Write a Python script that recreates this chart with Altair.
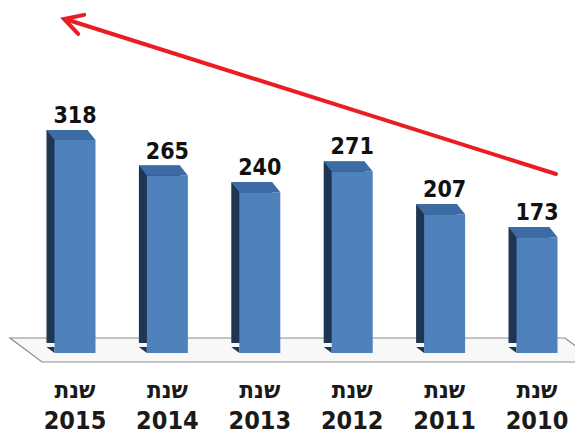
import altair as alt
import pandas as pd

years = ["2015", "2014", "2013", "2012", "2011", "2010"]
values = [318, 265, 240, 271, 207, 173]
prefix = "שנת"

df = pd.DataFrame({"year": years, "value": values, "prefix": [prefix] * len(years)})
base_df = pd.DataFrame({"v": [0]})

FONT = "DejaVu Sans Condensed, DejaVu Sans, sans-serif"
RED = "#ec1c24"
FRONT = "#4f81bd"
SIDE = "#1f3552"
TOP = "#3d6ba6"

xs = alt.Scale(type="band", domain=years, range=[20.8, 575.2], paddingInner=0, paddingOuter=0)
ys = alt.Scale(domain=[0, 515.1], range=[345, 0], nice=False, zero=True)
X = alt.X("year:N", sort=years, axis=None, scale=xs)
Y = alt.Y("value:Q", axis=None, scale=ys)

top_path = "M -0.82 0 L 0.82 0 L 0.5 -0.4 L -1.14 -0.4 Z"
bottom_path = "M -1.14 -0.24 L -0.82 -0.24 L -0.82 0 Z"
floor_path = "M -0.9783 -0.05 L 0.8717 -0.05 L 0.9783 0.03 L -0.8717 0.03 Z"
arrow_path = "M 0.9 -0.5 L 0 0 L 0.9 0.5"

floor = alt.Chart(base_df).mark_point(
    shape=floor_path, size=360000, filled=True, fill="#f8f8f8", fillOpacity=1,
    stroke="#8c8c8c", strokeWidth=1.2, opacity=1
).encode(x=alt.value(295.5), y=alt.Y(datum=0, scale=ys, axis=None))

side = alt.Chart(df).mark_bar(size=41, color=SIDE, xOffset=-8, yOffset=-10, y2Offset=-6).encode(x=X, y=Y)

bottom = alt.Chart(df).mark_point(
    shape=bottom_path, size=2500, filled=True, fill=SIDE, opacity=1, strokeWidth=0
).encode(x=X, y=alt.Y(datum=0, scale=ys, axis=None))

front = alt.Chart(df).mark_bar(size=41, color=FRONT).encode(x=X, y=Y)

top = alt.Chart(df).mark_point(
    shape=top_path, size=2500, filled=True, fill=TOP, opacity=1, strokeWidth=0
).encode(x=X, y=Y)

vlabels = alt.Chart(df).mark_text(
    dy=-17, baseline="alphabetic", fontSize=23, fontWeight="bold", font=FONT, color="#111111"
).encode(x=X, y=Y, text="value:Q")

plabels = alt.Chart(df).mark_text(
    baseline="alphabetic", fontSize=24, fontWeight="bold", font=FONT, color="#1a1a1a"
).encode(x=X, y=alt.value(390), text="prefix:N")

ylabels = alt.Chart(df).mark_text(
    baseline="alphabetic", fontSize=25, fontWeight="bold", font=FONT, color="#1a1a1a"
).encode(x=X, y=alt.value(421), text="year:N")

arrow_line = alt.Chart(base_df).mark_rule(color=RED, strokeWidth=4, strokeCap="round").encode(
    x=alt.value(548), y=alt.value(166), x2=alt.value(57), y2=alt.value(11)
)
arrow_head = alt.Chart(base_df).mark_point(
    shape=arrow_path, size=1600, filled=False, stroke=RED, strokeWidth=4, angle=17.5,
    opacity=1, strokeCap="round", strokeJoin="miter"
).encode(x=alt.value(56), y=alt.value(11))

chart = alt.layer(
    floor, side, bottom, front, top, vlabels, plabels, ylabels, arrow_line, arrow_head
).properties(
    width=567, height=428, autosize="none", padding=0
).configure_view(stroke=None)

chart.save("out.html", embed_options={"renderer": "svg", "actions": False})
